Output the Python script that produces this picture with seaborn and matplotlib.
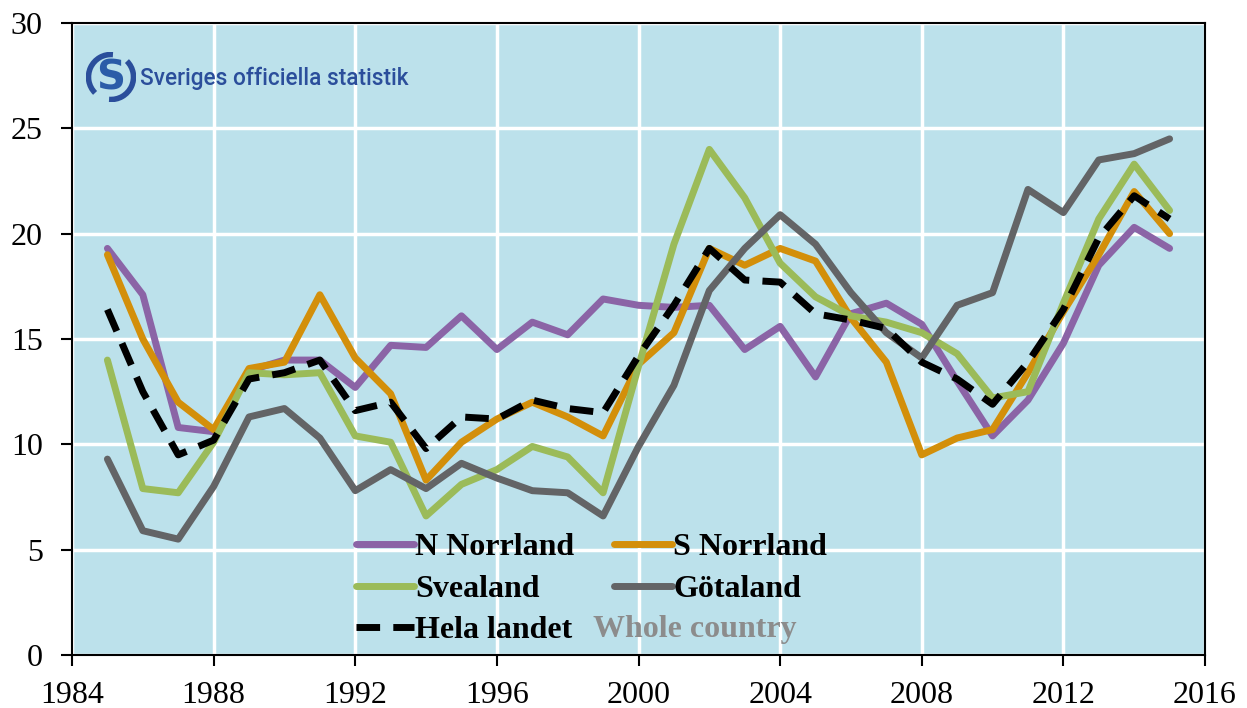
import matplotlib
matplotlib.use("Agg")
import matplotlib.pyplot as plt
import pandas as pd
import seaborn as sns
from matplotlib.lines import Line2D
from matplotlib.patches import Arc

years = list(range(1985, 2016))

n_norrland = [19.3, 17.1, 10.8, 10.6, 13.5, 14.0, 14.0, 12.7, 14.7, 14.6,
              16.1, 14.5, 15.8, 15.2, 16.9, 16.6, 16.5, 16.6, 14.5, 15.6,
              13.2, 16.2, 16.7, 15.7, 13.0, 10.4, 12.1, 14.8, 18.5, 20.3, 19.3]
s_norrland = [19.0, 15.0, 12.0, 10.7, 13.6, 13.9, 17.1, 14.1, 12.4, 8.3,
              10.1, 11.2, 12.0, 11.3, 10.4, 13.8, 15.3, 19.3, 18.5, 19.3,
              18.7, 16.0, 13.9, 9.5, 10.3, 10.7, 13.4, 16.3, 19.0, 22.0, 20.0]
svealand = [14.0, 7.9, 7.7, 10.1, 13.4, 13.3, 13.4, 10.4, 10.1, 6.6,
            8.1, 8.8, 9.9, 9.4, 7.7, 13.7, 19.5, 24.0, 21.7, 18.6,
            17.0, 16.1, 15.8, 15.3, 14.3, 12.2, 12.5, 16.7, 20.7, 23.3, 21.1]
gotaland = [9.3, 5.9, 5.5, 8.0, 11.3, 11.7, 10.3, 7.8, 8.8, 7.9,
            9.1, 8.4, 7.8, 7.7, 6.6, 9.9, 12.8, 17.3, 19.3, 20.9,
            19.5, 17.2, 15.3, 14.1, 16.6, 17.2, 22.1, 21.0, 23.5, 23.8, 24.5]
hela_landet = [16.4, 12.5, 9.5, 10.2, 13.1, 13.4, 14.0, 11.6, 12.0, 9.8,
               11.3, 11.2, 12.1, 11.7, 11.5, 14.2, 16.6, 19.3, 17.8, 17.7,
               16.2, 15.9, 15.5, 13.9, 13.1, 11.9, 13.9, 16.4, 19.8, 21.8, 20.7]

regions = ["N Norrland", "S Norrland", "Svealand", "Götaland", "Hela landet"]
series = [n_norrland, s_norrland, svealand, gotaland, hela_landet]
colors = {"N Norrland": "#8B64A6", "S Norrland": "#D38F0A",
          "Svealand": "#9BBB59", "Götaland": "#636466", "Hela landet": "black"}
dashes = {"N Norrland": "", "S Norrland": "", "Svealand": "",
          "Götaland": "", "Hela landet": (3.4, 1.9)}

df = pd.DataFrame({
    "year": years * len(regions),
    "value": sum(series, []),
    "region": [r for r in regions for _ in years],
})

sns.set_style("whitegrid", {"axes.facecolor": "#BCE1EB", "grid.color": "white",
                            "axes.edgecolor": "black", "xtick.bottom": True,
                            "ytick.left": True})
plt.rcParams["font.family"] = ["Liberation Serif", "DejaVu Serif"]
plt.rcParams.update({"text.color": "black", "xtick.color": "black",
                     "ytick.color": "black", "axes.labelcolor": "black"})

fig = plt.figure(figsize=(12.47, 7.08), dpi=100)
ax = fig.add_axes([72 / 1247, 1 - 655 / 708, 1133 / 1247, 632 / 708])

lw = 5.0
sns.lineplot(data=df, x="year", y="value", hue="region", style="region",
             palette=colors, dashes=dashes, linewidth=lw, legend=False, ax=ax)

ax.set_xlim(1984, 2016)
ax.set_ylim(0, 30)
ax.set_xticks(range(1984, 2017, 4))
ax.set_yticks(range(0, 31, 5))
ax.set_xlabel("")
ax.set_ylabel("")
ax.grid(True, color="white", linewidth=2.5)
for sp in ax.spines.values():
    sp.set_color("black")
    sp.set_linewidth(1.5)
ax.tick_params(axis="both", direction="out", length=8, width=1.5,
               color="black", labelcolor="black", labelsize=23)
ax.tick_params(axis="y", pad=13)
ax.tick_params(axis="x", pad=11)

# legend (column-wise fill)
order = ["N Norrland", "Svealand", "Hela landet", "S Norrland", "Götaland"]
handles = [Line2D([], [], color=colors[r], linewidth=lw,
                  dashes=dashes[r] if dashes[r] else (None, None)) for r in order]
leg = fig.legend(handles, order, loc="upper left",
                 bbox_to_anchor=(356 / 1247, 1 - 533 / 708), ncol=2,
                 frameon=False, prop={"weight": "bold", "size": 23},
                 handlelength=1.8, handletextpad=0.05, columnspacing=1.25,
                 labelspacing=0.38, borderpad=0, borderaxespad=0)
for t in leg.get_texts():
    t.set_color("black")
fig.text(593 / 1247, 1 - 630 / 708, "Whole country", color="#8C8C8C",
         fontsize=23, weight="bold", va="center", ha="left")

# logo
logo = fig.add_axes([86 / 1247, 1 - 102 / 708, 50 / 1247, 50 / 708])
logo.set_xlim(-1, 1)
logo.set_ylim(-1, 1)
logo.set_aspect("equal")
logo.axis("off")
logo.add_patch(Arc((0, 0), 1.8, 1.8, theta1=85, theta2=225, color="#2B4E9B", lw=4))
logo.add_patch(Arc((0, 0), 1.8, 1.8, theta1=265, theta2=45, color="#2B4E9B", lw=4))
logo.text(0.0, -0.04, "S", color="#2B5CA8", fontsize=29, ha="center", va="center",
          family="DejaVu Sans", weight="bold")
fig.text(140 / 1247, 1 - 78 / 708, "Sveriges officiella statistik", color="#2B4E9B",
         fontsize=16.3, family="Roboto", weight="medium",
         va="center", ha="left")

fig.savefig("out.png", dpi=100)
